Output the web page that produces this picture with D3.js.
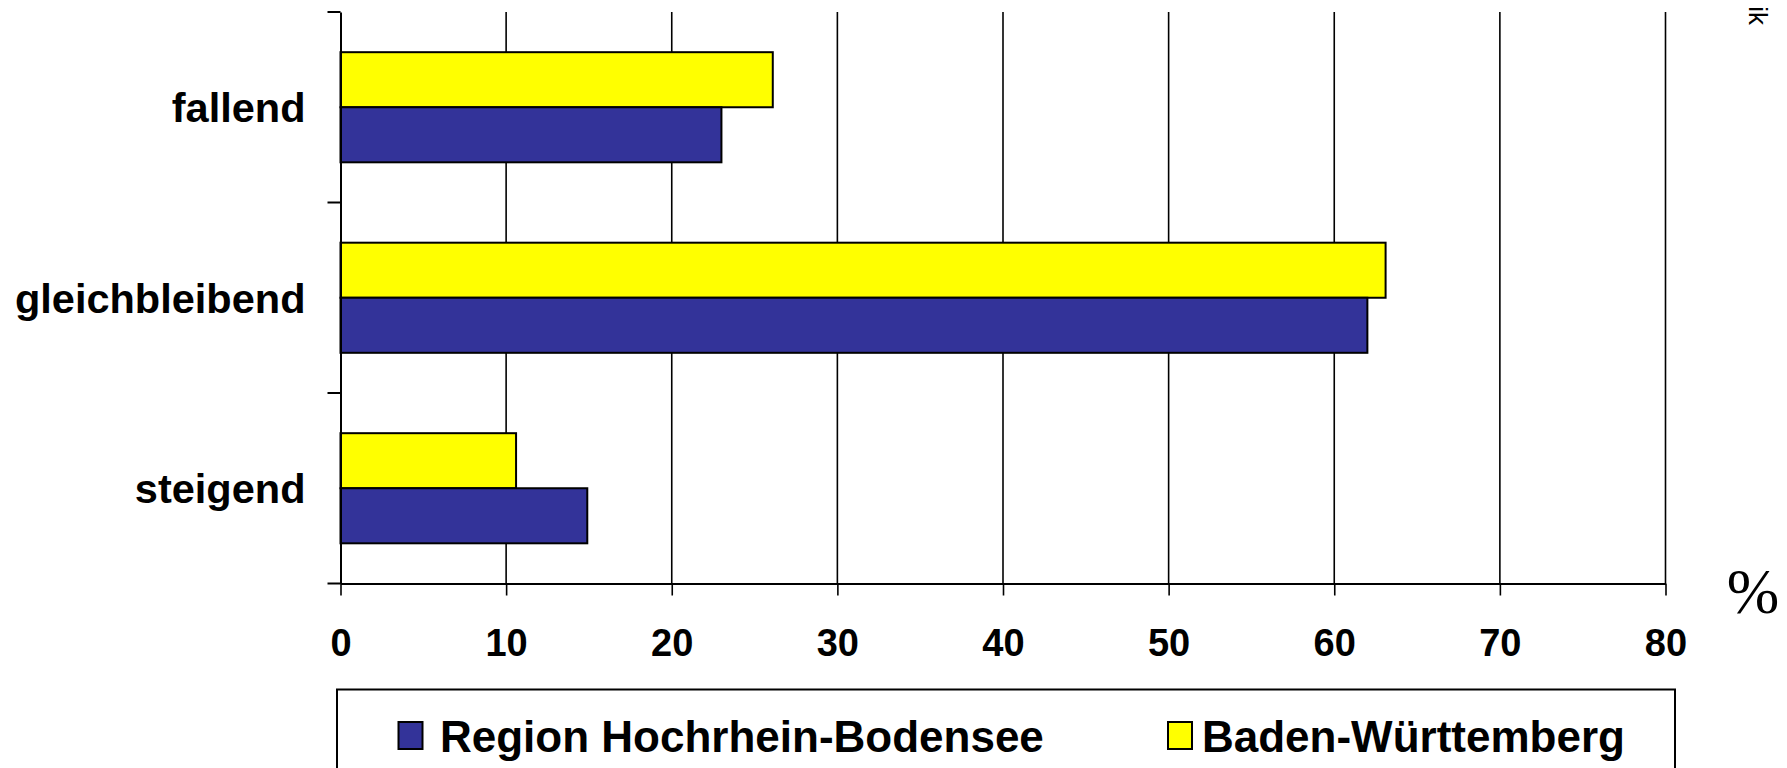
<!DOCTYPE html>
<html><head><meta charset="utf-8">
<script src="https://cdn.jsdelivr.net/npm/d3@7"></script>
<style>html,body{margin:0;padding:0;background:#fff;overflow:hidden}svg{display:block}</style>
</head><body>
<script>
const categories = ["fallend", "gleichbleibend", "steigend"];
const seriesNames = ["Baden-Württemberg", "Region Hochrhein-Bodensee"];
const bwValues = [26.1, 63.1, 10.6];
const regionValues = [23.0, 62.0, 14.9];
const xTicks = [0, 10, 20, 30, 40, 50, 60, 70, 80];
const legendOrder = ["Region Hochrhein-Bodensee", "Baden-Württemberg"];
const colors = {"Baden-Württemberg": "#FFFF00", "Region Hochrhein-Bodensee": "#333399"};

const W = 1787, H = 768;
const svg = d3.select("body").append("svg").attr("width", W).attr("height", H);

const x = d3.scaleLinear().domain([0, 80]).range([340.5, 1665.5]);
const y = d3.scaleBand().domain(categories).range([12, 583.5]).padding(0);
const ys = d3.scaleBand().domain(seriesNames).range([0, y.bandwidth()]).paddingInner(0).paddingOuter(0.73);

// gridlines
svg.append("g").selectAll("line").data(xTicks.slice(1)).join("line")
  .attr("x1", d => x(d)).attr("x2", d => x(d))
  .attr("y1", 12).attr("y2", 583.5)
  .attr("stroke", "#000").attr("stroke-width", 1.6);

// bars
const data = [];
categories.forEach((c, i) => {
  data.push({cat: c, s: "Baden-Württemberg", v: bwValues[i]});
  data.push({cat: c, s: "Region Hochrhein-Bodensee", v: regionValues[i]});
});
svg.append("g").selectAll("rect").data(data).join("rect")
  .attr("x", x(0)).attr("y", d => y(d.cat) + ys(d.s))
  .attr("width", d => x(d.v) - x(0)).attr("height", ys.bandwidth())
  .attr("fill", d => colors[d.s]).attr("stroke", "#000").attr("stroke-width", 2);

// y axis
const yAxis = d3.axisLeft(y).tickSize(0).tickPadding(35);
const gy = svg.append("g").attr("transform", `translate(${x(0)},0)`).call(yAxis);
gy.select(".domain").attr("stroke", "#000").attr("stroke-width", 2);
gy.selectAll("text").attr("font-family", "Liberation Sans, Arial, sans-serif")
  .attr("font-weight", "bold").attr("font-size", 41.5).attr("fill", "#000").attr("dy", "0.36em");
// category boundary ticks
const bounds = [...categories.map(c => y(c)), y.range()[1]];
svg.append("g").selectAll("line").data(bounds).join("line")
  .attr("x1", x(0) - 13).attr("x2", x(0)).attr("y1", d => d).attr("y2", d => d)
  .attr("stroke", "#000").attr("stroke-width", 2);

// x axis
const xAxis = d3.axisBottom(x).tickValues(xTicks).tickSize(12).tickPadding(34).tickSizeOuter(0);
const gx = svg.append("g").attr("transform", `translate(0,583.5)`).call(xAxis);
gx.select(".domain").attr("stroke", "#000").attr("stroke-width", 2);
gx.selectAll(".tick line").attr("stroke", "#000").attr("stroke-width", 1.6);
gx.selectAll("text").attr("font-family", "Liberation Sans, Arial, sans-serif")
  .attr("font-weight", "bold").attr("font-size", 38).attr("fill", "#000");

// percent sign
svg.append("text").attr("x", 1753).attr("y", 613).attr("text-anchor", "middle")
  .attr("font-family", "Liberation Serif, Times New Roman, serif").attr("font-size", 63).text("%");

// rotated source text fragment
svg.append("text").attr("transform", "translate(1749,25) rotate(90)")
  .attr("text-anchor", "end").attr("font-family", "Liberation Sans, Arial, sans-serif")
  .attr("font-size", 26).text("ik");

// legend
const lg = svg.append("g");
lg.append("rect").attr("x", 337).attr("y", 689.5).attr("width", 1338).attr("height", 120)
  .attr("fill", "none").attr("stroke", "#000").attr("stroke-width", 2);
const swX = [398.5, 1168];
const txX = [440, 1202];
legendOrder.forEach((s, i) => {
  lg.append("rect").attr("x", swX[i]).attr("y", 722).attr("width", 24).attr("height", 27)
    .attr("fill", colors[s]).attr("stroke", "#000").attr("stroke-width", 2);
  lg.append("text").attr("x", txX[i]).attr("y", 752)
    .attr("font-family", "Liberation Sans, Arial, sans-serif").attr("font-weight", "bold")
    .attr("font-size", 44).text(s);
});
</script>
</body></html>
